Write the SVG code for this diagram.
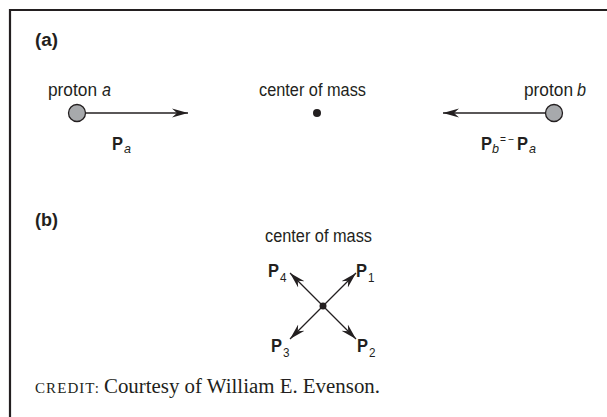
<svg xmlns="http://www.w3.org/2000/svg" width="607" height="417" viewBox="0 0 607 417">
<style>
.s{font-family:"Liberation Sans Narrow","Arial Narrow","Liberation Sans",Arial,sans-serif;fill:#231f20}
.lbl{font-size:17.5px}
.bl{font-size:18px;font-weight:bold}
.it{font-style:italic}
.sub{font-size:13px}
.sm{font-size:11px}
.ser{font-family:"Liberation Serif","Times New Roman",serif;fill:#231f20}
.ln{stroke:#231f20;stroke-width:1.3;fill:none}
.prot{fill:#a7a9ac;stroke:#231f20;stroke-width:1.3}
</style>
<defs>
<marker id="ah" viewBox="0 0 16 10" refX="16" refY="5" markerWidth="16" markerHeight="10" markerUnits="userSpaceOnUse" orient="auto">
<path d="M0,0.5 L16,5 L0,9.5 L5,5 Z" fill="#231f20"/>
</marker>
</defs>
<rect width="607" height="417" fill="#fff"/>
<g id="frame">
<path d="M10,417 V10 H607" fill="none" stroke="#231f20" stroke-width="2.2"/>
</g>
<g id="panel-a-label"><text class="s bl" x="35" y="46" textLength="23" lengthAdjust="spacingAndGlyphs">(a)</text></g>
<g id="connectors">
<line class="ln" x1="86" y1="113" x2="188" y2="113" marker-end="url(#ah)"/>
<line class="ln" x1="545" y1="113" x2="443" y2="113" marker-end="url(#ah)"/>
<line class="ln" x1="323" y1="306" x2="356" y2="273" marker-end="url(#ah)"/>
<line class="ln" x1="323" y1="306" x2="356" y2="339" marker-end="url(#ah)"/>
<line class="ln" x1="323" y1="306" x2="290" y2="339" marker-end="url(#ah)"/>
<line class="ln" x1="323" y1="306" x2="290" y2="273" marker-end="url(#ah)"/>
</g>
<g id="proton-a">
<text class="s lbl" x="48" y="96" textLength="49" lengthAdjust="spacingAndGlyphs">proton</text>
<text class="s lbl it" x="102" y="96" textLength="9" lengthAdjust="spacingAndGlyphs">a</text>
<circle class="prot" cx="77" cy="113" r="8.5"/>
</g>
<g id="label-Pa">
<text class="s bl" x="112" y="150" textLength="11" lengthAdjust="spacingAndGlyphs">P</text>
<text class="s it sub" x="124" y="153" textLength="7" lengthAdjust="spacingAndGlyphs">a</text>
</g>
<g id="com-a">
<text class="s lbl" x="259" y="96" textLength="107" lengthAdjust="spacingAndGlyphs">center of mass</text>
<circle cx="317" cy="113" r="4" fill="#231f20"/>
</g>
<g id="proton-b">
<text class="s lbl" x="524" y="96" textLength="49" lengthAdjust="spacingAndGlyphs">proton</text>
<text class="s lbl it" x="577" y="96" textLength="9" lengthAdjust="spacingAndGlyphs">b</text>
<circle class="prot" cx="554" cy="113" r="8.5"/>
</g>
<g id="label-Pb">
<text class="s bl" x="481" y="150" textLength="11" lengthAdjust="spacingAndGlyphs">P</text>
<text class="s it sub" x="492" y="153" textLength="7" lengthAdjust="spacingAndGlyphs">b</text>
<text class="s sm" x="500" y="143" textLength="6" lengthAdjust="spacingAndGlyphs">=</text>
<text class="s sm" x="508" y="143" textLength="6" lengthAdjust="spacingAndGlyphs">−</text>
<text class="s bl" x="517" y="150" textLength="11" lengthAdjust="spacingAndGlyphs">P</text>
<text class="s it sub" x="529" y="153" textLength="7" lengthAdjust="spacingAndGlyphs">a</text>
</g>
<g id="panel-b-label"><text class="s bl" x="35" y="226" textLength="23" lengthAdjust="spacingAndGlyphs">(b)</text></g>
<g id="com-b">
<text class="s lbl" x="265" y="242" textLength="107" lengthAdjust="spacingAndGlyphs">center of mass</text>
<circle cx="323" cy="306" r="3.5" fill="#231f20"/>
</g>
<g id="P4"><text class="s bl" x="268" y="277" textLength="11" lengthAdjust="spacingAndGlyphs">P</text><text class="s sub" x="280" y="282" textLength="6.5" lengthAdjust="spacingAndGlyphs">4</text></g>
<g id="P1"><text class="s bl" x="356" y="277" textLength="11" lengthAdjust="spacingAndGlyphs">P</text><text class="s sub" x="368" y="282" textLength="6.5" lengthAdjust="spacingAndGlyphs">1</text></g>
<g id="P3"><text class="s bl" x="271" y="352" textLength="11" lengthAdjust="spacingAndGlyphs">P</text><text class="s sub" x="283" y="357" textLength="6.5" lengthAdjust="spacingAndGlyphs">3</text></g>
<g id="P2"><text class="s bl" x="357" y="352" textLength="11" lengthAdjust="spacingAndGlyphs">P</text><text class="s sub" x="369" y="357" textLength="6.5" lengthAdjust="spacingAndGlyphs">2</text></g>
<g id="credit">
<text class="ser" x="35" y="393" font-size="15" textLength="64" lengthAdjust="spacing">CREDIT:</text>
<text class="ser" x="104" y="393" font-size="20.5" textLength="276" lengthAdjust="spacingAndGlyphs">Courtesy of William E. Evenson.</text>
</g>
</svg>
